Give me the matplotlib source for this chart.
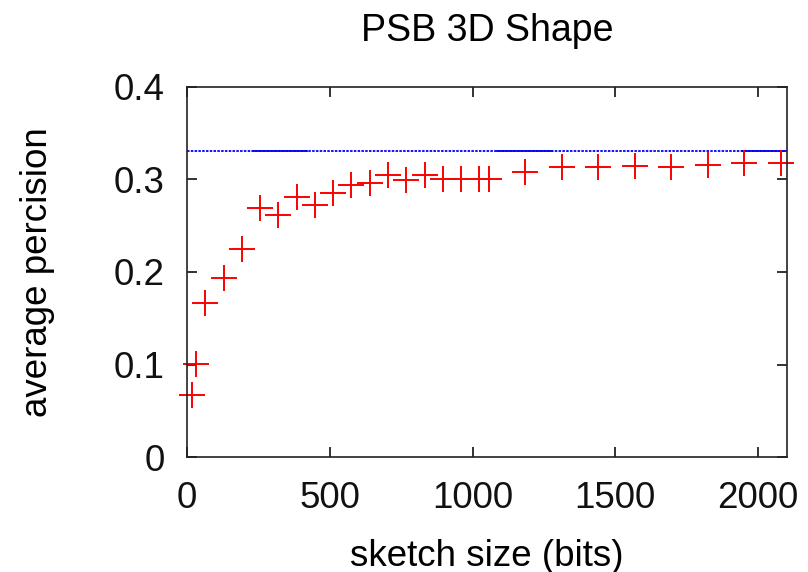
import matplotlib
matplotlib.use("Agg")
import matplotlib.pyplot as plt

plt.rcParams['font.family'] = ['Liberation Sans', 'DejaVu Sans']

# sketch size (bits) and average precision
sketch_bits = [16, 32, 64, 128, 192, 256, 320, 384, 448, 512, 576, 640, 704, 768,
               832, 896, 960, 1024, 1056, 1184, 1312, 1440, 1568, 1696, 1824, 1952, 2080]
avg_prec = [0.067, 0.101, 0.166, 0.194, 0.2245, 0.269, 0.2616, 0.2807, 0.2724, 0.285,
            0.294, 0.296, 0.305, 0.299, 0.305, 0.301, 0.301, 0.301, 0.301, 0.3085,
            0.313, 0.314, 0.315, 0.314, 0.3157, 0.3175, 0.318]

baseline = 0.331
baseline_solid = [(230, 420), (1085, 1278), (1943, 2100)]

x_ticks = [0, 500, 1000, 1500, 2000]
y_ticks = [0, 0.1, 0.2, 0.3, 0.4]

fig = plt.figure(figsize=(8.08, 5.72), dpi=100)
ax = fig.add_axes([0.2315, 0.201, 0.742, 0.647])

# baseline: fine dotted with a few solid stretches, like the gnuplot output
ax.plot([0, 2100], [baseline, baseline], color='#0000ff', lw=1.3,
        linestyle=(0, (1.4, 0.7)))
for x0, x1 in baseline_solid:
    ax.plot([x0, x1], [baseline, baseline], color='#0000ff', lw=1.3)

ax.plot(sketch_bits, avg_prec, linestyle='none', marker='+', color='#ff0000',
        markersize=19, markeredgewidth=1.4, clip_on=False)

ax.set_xlim(0, 2100)
ax.set_ylim(0, 0.4)
ax.set_xticks(x_ticks)
ax.set_yticks(y_ticks)
ax.set_xticklabels([str(v) for v in x_ticks])
ax.set_yticklabels(['0', '0.1', '0.2', '0.3', '0.4'])
ax.tick_params(direction='in', length=7, width=1.2, top=True, right=True,
               labelsize=26.5, colors='#111111')
ax.tick_params(axis='x', pad=17.5)
ax.tick_params(axis='y', pad=16)
for s in ax.spines.values():
    s.set_linewidth(1.2)
    s.set_color('#222222')

ax.set_title('PSB 3D Shape', fontsize=27, pad=33)
ax.set_xlabel('sketch size (bits)', fontsize=26.5, labelpad=16)
ax.set_ylabel('average percision', fontsize=26.5, labelpad=42)

fig.savefig('out.png', dpi=100)
